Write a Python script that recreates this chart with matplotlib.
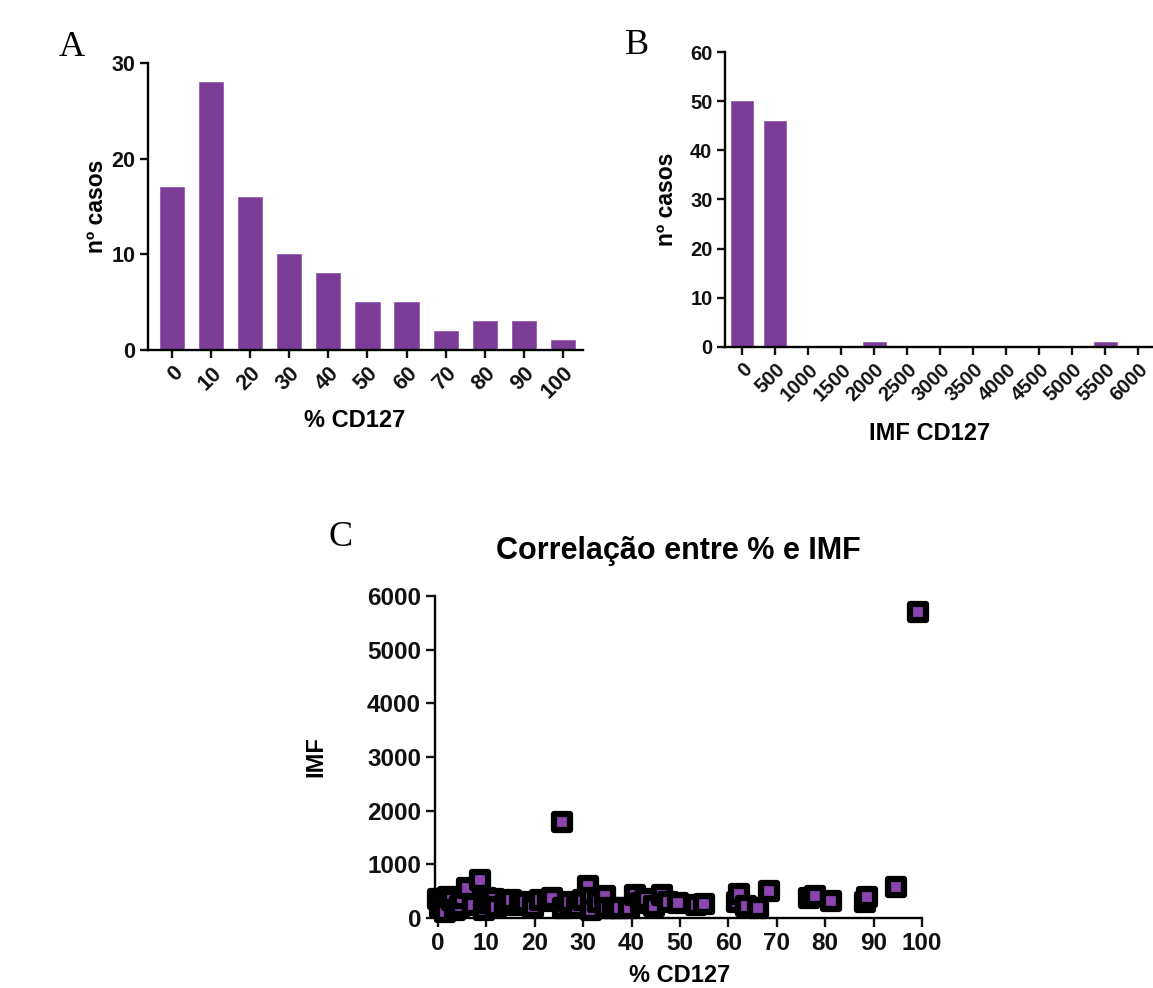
import numpy as np
import matplotlib
matplotlib.use('Agg')
from matplotlib import pyplot as plt

# panel A: histogram of % CD127
pct_bins = ['0', '10', '20', '30', '40', '50', '60', '70', '80', '90', '100']
pct_counts = [17, 28, 16, 10, 8, 5, 5, 2, 3, 3, 1]

# panel B: histogram of IMF CD127
imf_bins = [0, 500, 1000, 1500, 2000, 2500, 3000, 3500, 4000, 4500, 5000, 5500, 6000]
imf_counts = [50, 46, 0, 0, 1, 0, 0, 0, 0, 0, 0, 1, 0]

# panel C: % vs IMF per case
pct_c = [0, 0.5, 0.8, 1.5, 2, 3, 3.5, 4.5, 5, 6.1,
         7.3, 8.7, 9.6, 9.9, 10.5, 11.5, 12, 13.8, 15, 16.9,
         18, 19.7, 21, 22.7, 23.5, 25.6, 25.9, 27, 28.7, 30,
         31.1, 31.7, 31.7, 33, 34.5, 34.7, 36.1, 37.4, 39.5, 40.7,
         41.9, 43, 44.7, 46.2, 47.6, 49.5, 53.4, 55, 61.7, 62.2,
         63.6, 66.1, 68.3, 76.7, 77.8, 81.3, 88.2, 88.6, 94.6, 99.2]
imf_c = [350, 200, 273, 120, 400, 330, 150, 229, 380, 553,
         242, 708, 149, 379, 280, 360, 200, 242, 330, 242,
         300, 211, 330, 317, 380, 1790, 192, 300, 211, 330,
         596, 372, 149, 300, 416, 192, 192, 192, 192, 420,
         273, 350, 229, 428, 304, 273, 242, 261, 304, 450,
         229, 180, 509, 379, 416, 317, 304, 398, 584, 5700]

purple = '#7B3D98'
W, H = 1153, 988
plt.rcParams['font.family'] = ['Liberation Sans', 'DejaVu Sans']
plt.rcParams['font.weight'] = 'bold'
plt.rcParams['axes.linewidth'] = 1.7

fig = plt.figure(figsize=(W / 100, H / 100), dpi=100)


def frac(left, top, right, bottom):
  return [left / W, 1 - bottom / H, (right - left) / W, (bottom - top) / H]


def style(ax, fs=15.5):
  ax.spines['top'].set_visible(False)
  ax.spines['right'].set_visible(False)
  ax.tick_params(direction='out', length=5.5, width=1.7, labelsize=fs, colors='#111111')
  for t in ax.get_xticklabels() + ax.get_yticklabels():
    t.set_fontweight('bold')


# A
axA = fig.add_axes(frac(148, 63, 583, 350))
xa = np.arange(len(pct_counts))
axA.bar(xa, pct_counts, width=0.62, color=purple, edgecolor='#9461ad', linewidth=0.6)
axA.set_xlim(-0.61, 10.51)
axA.set_ylim(0, 30)
axA.set_yticks([0, 10, 20, 30])
axA.set_xticks(xa)
axA.set_xticklabels(pct_bins, rotation=45, ha='right', rotation_mode='anchor')
style(axA)
axA.set_ylabel('nº casos', fontsize=16.5, fontweight='bold')
axA.yaxis.set_label_coords(-0.092, 0.5)
axA.set_xlabel('% CD127', fontsize=17, fontweight='bold')
axA.xaxis.set_label_coords(0.476, -0.205)

# B
axB = fig.add_axes(frac(725, 52, 1153, 347))
axB.bar(imf_bins, imf_counts, width=340, color=purple, edgecolor='#9461ad', linewidth=0.6)
axB.set_xlim(-260, 6220)
axB.set_ylim(0, 60)
axB.set_yticks(range(0, 61, 10))
axB.set_xticks(imf_bins)
axB.set_xticklabels([str(b) for b in imf_bins], rotation=45, ha='right', rotation_mode='anchor')
style(axB, fs=14.5)
axB.set_ylabel('nº casos', fontsize=16.5, fontweight='bold')
axB.yaxis.set_label_coords(-0.11, 0.5)
axB.set_xlabel('IMF CD127', fontsize=17, fontweight='bold')
axB.xaxis.set_label_coords(0.479, -0.255)

# C
axC = fig.add_axes(frac(435, 596, 922, 918))
axC.scatter(pct_c, imf_c, marker='s', s=125, c='#8A45B0', edgecolors='black',
            linewidths=4.5, zorder=3, clip_on=False)
axC.set_xlim(-0.6, 100)
axC.set_ylim(0, 6000)
axC.set_xticks(range(0, 101, 10))
axC.set_yticks(range(0, 6001, 1000))
style(axC, fs=17.5)
axC.tick_params(length=6.5)
axC.set_title('Correlação entre % e IMF', fontsize=22, fontweight='bold', pad=27)
axC.set_ylabel('IMF', fontsize=17, fontweight='bold')
axC.yaxis.set_label_coords(-0.222, 0.5)
axC.set_xlabel('% CD127', fontsize=17, fontweight='bold')
axC.xaxis.set_label_coords(0.503, -0.142)

# panel letters
for lbl, x, y in [('A', 72, 48), ('B', 637, 45), ('C', 341, 538)]:
  fig.text(x / W, 1 - y / H, lbl, fontsize=26, family='Liberation Serif',
           fontweight='normal', ha='center', va='center')

fig.savefig('out.png', dpi=100)
